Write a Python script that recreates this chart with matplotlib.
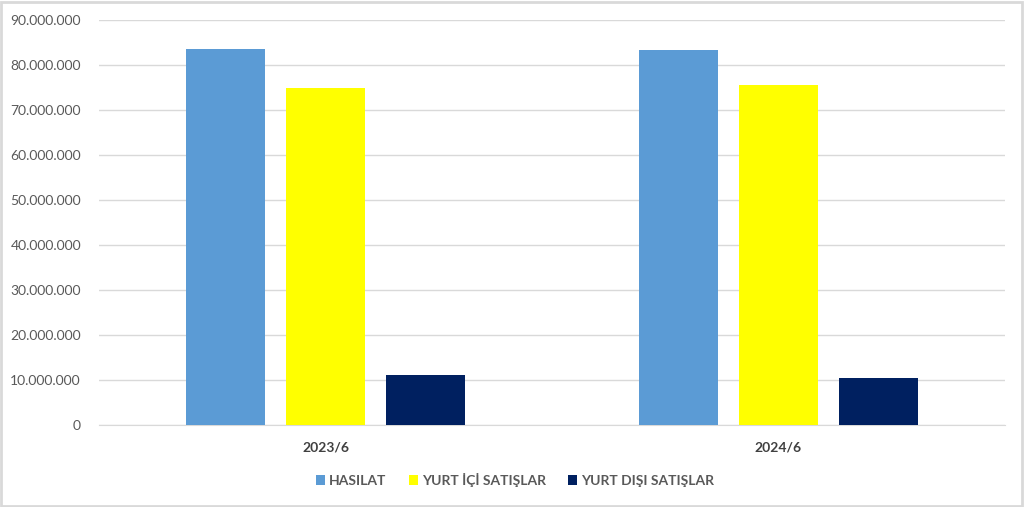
#!/usr/bin/env python
# -*- coding:utf-8 -*-
# grouped bar chart: hasilat / yurt ici / yurt disi satislar

import numpy as np
import matplotlib
matplotlib.use('Agg')
import matplotlib.pyplot as plt
from matplotlib.ticker import FuncFormatter, MultipleLocator
from matplotlib.patches import Rectangle

periods = ['2023/6', '2024/6']
series_names = ['HASILAT', 'YURT İÇİ SATIŞLAR', 'YURT DIŞI SATIŞLAR']
hasilat = [83500000, 83300000]
yurt_ici = [74900000, 75500000]
yurt_disi = [11100000, 10500000]
colors = ['#5B9BD5', '#FFFF00', '#002060']

plt.rcParams['font.family'] = ['Lato', 'DejaVu Sans']

fig = plt.figure(figsize=(10.24, 5.07), dpi=100)
ax = fig.add_axes([99/1024, 1-425/507, (1005-99)/1024, (425-20)/507])

x = np.arange(len(periods))
width = 0.174
step = 0.221
for ii, vals in enumerate([hasilat, yurt_ici, yurt_disi]):
    ax.bar(x + (ii-1)*step, vals, width, color=colors[ii], label=series_names[ii], zorder=3)

ax.set_xlim(-0.5, 1.5)
ax.set_ylim(0, 90000000)
ax.yaxis.set_major_locator(MultipleLocator(10000000))
ax.yaxis.set_major_formatter(FuncFormatter(lambda v, p: '{:,.0f}'.format(v).replace(',', '.')))
ax.grid(axis='y', color='#d9d9d9', lw=1, zorder=0)
for s in ['top', 'right', 'left']:
    ax.spines[s].set_visible(False)
ax.spines['bottom'].set_color('#d9d9d9')
ax.tick_params(axis='y', length=0, pad=13, labelsize=10, labelcolor='#595959')
ax.tick_params(axis='x', length=0, pad=12, labelsize=10, labelcolor='#404040')
ax.set_xticks(x)
ax.set_xticklabels(periods, fontweight='bold')

leg = fig.legend(loc='center', bbox_to_anchor=(515/1024, 1-480/507), ncol=3, frameon=False,
                 handlelength=0.65, handleheight=0.65, handletextpad=0.3, columnspacing=1.6,
                 prop={'size': 10, 'weight': 'bold'})
for t in leg.get_texts():
    t.set_color('#595959')

fig.patches.append(Rectangle((0.001, 0.002), 0.997, 0.995, transform=fig.transFigure,
                             fill=False, edgecolor='#d9d9d9', lw=2))

fig.savefig('out.png', dpi=100)
